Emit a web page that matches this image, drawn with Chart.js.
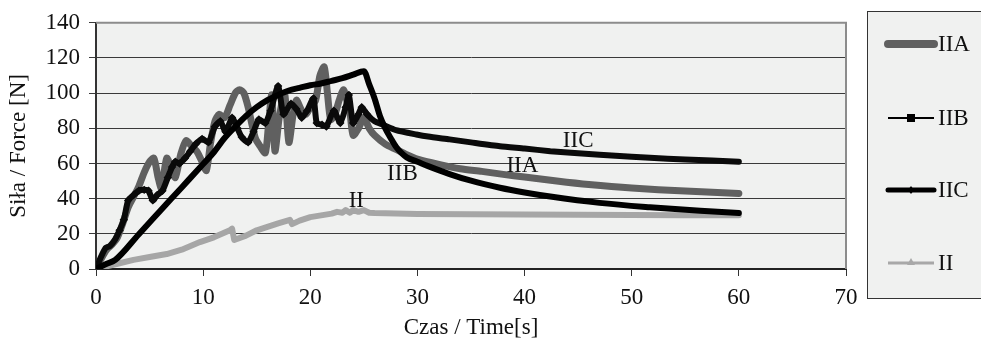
<!DOCTYPE html>
<html>
<head>
<meta charset="utf-8">
<title>Siła / Force</title>
<script src="https://cdn.jsdelivr.net/npm/chart.js@4.4.0/dist/chart.umd.min.js"></script>
<style>
  html, body { margin: 0; padding: 0; background: #fff; }
  #wykres { display: block; }
</style>
</head>
<body>
<canvas id="wykres" width="981" height="339"></canvas>
<script>
// Dane (czas [s], siła [N])
const czasIIA = [0, 0.5, 1, 1.5, 2, 2.5, 3, 3.5, 4, 4.5, 5, 5.4, 5.8, 6.1, 6.6, 7, 7.4, 7.9, 8.4, 8.9,
  9.4, 9.9, 10.3, 10.7, 11.1, 11.5, 12, 12.5, 13, 13.4, 13.8, 14.2, 14.6, 14.9, 15.3, 15.8, 16.1, 16.4, 16.7, 17.1,
  17.6, 18, 18.4, 18.7, 19.2, 19.6, 20, 20.5, 20.9, 21.3, 21.6, 21.9, 22.3, 22.7, 23.1, 23.4, 23.7, 24, 24.5, 25,
  25.5, 26, 27, 28, 29, 30, 32, 34, 36, 38, 40, 43, 46, 50, 55, 60];
const silaIIA = [0, 6, 11, 14, 18, 26, 35, 41, 47, 55, 61, 63, 52, 46, 63, 58, 52, 65, 73, 70,
  67, 61, 56, 72, 84, 88, 86, 93, 100, 102, 100, 92, 81, 74, 70, 66, 82, 99, 67, 86,
  100, 72, 88, 96, 90, 88, 92, 96, 110, 115, 100, 85, 88, 96, 102, 96, 89, 76, 80, 86,
  80, 76, 71, 68, 65, 62.5, 59.5, 57, 55.5, 53.8, 52.3, 50, 48, 46, 44.3, 43];

const czasIIB = [0, 1, 1.8, 4, 6, 8, 10, 11, 12, 13, 14, 15, 16, 17, 18, 19, 20, 21, 22, 23,
  24, 25, 25.5, 26, 26.5, 27, 27.5, 28, 28.5, 29, 30, 31, 33, 35, 37.7, 40, 42.4, 47, 51.7, 56.4, 60];
const silaIIB = [0, 3, 5.2, 19.8, 33.1, 46.4, 59.7, 66.4, 74.5, 81, 87, 92, 96, 99, 101.5, 103, 104.5, 105.5, 107, 108.5,
  110.5, 112.5, 105, 97, 87, 80, 74.5, 69.5, 66, 63.5, 61, 58.5, 54, 50.2, 46.2, 43.5, 41.2, 37.6, 35.1, 33.1, 31.8];

const czasIIC = [0, 0.4, 0.9, 1.3, 1.8, 2.2, 2.6, 3, 3.5, 4, 4.5, 4.9, 5.3, 5.7, 6.2, 6.7, 7.1, 7.4, 7.8, 8.3,
  8.8, 9.3, 9.9, 10.5, 11.1, 11.6, 12.1, 12.7, 13.2, 13.6, 14.2, 14.7, 15.2, 15.8, 16.3, 17, 17.5, 18.2, 18.7, 19.2,
  19.7, 20.3, 20.6, 21.1, 21.5, 22.2, 22.8, 23.3, 23.6, 24, 24.5, 24.8, 25.3, 26, 26.8, 28, 29.9, 31, 33, 35,
  37.7, 40, 42.4, 45, 47, 50, 51.7, 55, 60];
const silaIIC = [0, 6, 12, 13, 17, 22, 28, 39, 42, 44.5, 45, 44.5, 39, 42, 44.5, 52, 58, 61, 60, 63,
  67, 71, 74, 72, 81, 84, 78, 86, 80, 75, 72, 78, 85, 83, 90, 104, 88, 94, 91, 86,
  90, 97, 83, 82, 81, 90, 83, 92, 99, 83, 88, 92, 88, 84, 82, 79, 76.5, 75.3, 73.7, 72,
  69.8, 68.5, 67, 65.8, 65, 63.8, 63.2, 62.3, 61];

const czasII = [0, 1, 2, 3.5, 5, 6.6, 8, 9.7, 11, 12.5, 12.7, 12.9, 14, 15, 16, 17, 18.1, 18.3, 19, 20,
  21, 22, 22.5, 23, 23.3, 23.7, 24, 24.5, 25, 25.5, 26, 28, 30, 35, 40, 45, 50, 55, 60];
const silaII = [0, 1.5, 3, 5.2, 6.8, 8.5, 11, 15.3, 18, 22, 23, 16.5, 19, 22, 24, 26, 28, 25.5, 27.5, 29.5,
  30.5, 31.5, 32.5, 32, 33.5, 32, 33.5, 32.5, 33.5, 32, 31.8, 31.5, 31.3, 31.1, 31, 30.8, 30.7, 30.6, 30.5];

const serie = ['IIA', 'IIB', 'IIC', 'II'];
const osX = [0, 10, 20, 30, 40, 50, 60, 70];
const osY = [0, 20, 40, 60, 80, 100, 120, 140];

// podpisy serii na wykresie (w jednostkach danych)
const podpisy = [
  { tekst: 'IIC', x: 45.0, y: 73 },
  { tekst: 'IIA', x: 39.8, y: 58.5 },
  { tekst: 'IIB', x: 28.6, y: 54 },
  { tekst: 'II', x: 24.3, y: 38.5 }
];

const punkty = (czas, sila) => czas.map((t, i) => ({ x: t, y: sila[i] }));
const czcionka = 'Liberation Serif';
const rozmiar = 23;

// Tło obszaru wykresu, ramka, podpisy i legenda
const dodatki = {
  id: 'dodatki',
  beforeDraw(chart) {
    const { ctx, chartArea: a } = chart;
    ctx.save();
    ctx.fillStyle = '#f0f1f0';
    ctx.fillRect(a.left, a.top, a.right - a.left, a.bottom - a.top);
    ctx.restore();
  },
  afterDraw(chart) {
    const { ctx, chartArea: a, scales } = chart;
    ctx.save();
    ctx.strokeStyle = '#8c8c8c';
    ctx.lineWidth = 2;
    ctx.beginPath();
    ctx.moveTo(a.left, a.top);
    ctx.lineTo(a.right, a.top);
    ctx.lineTo(a.right, a.bottom);
    ctx.stroke();

    ctx.fillStyle = '#111';
    ctx.font = rozmiar + 'px "' + czcionka + '"';
    ctx.textAlign = 'center';
    ctx.textBaseline = 'middle';
    podpisy.forEach(p => {
      ctx.fillText(p.tekst, scales.x.getPixelForValue(p.x), scales.y.getPixelForValue(p.y));
    });

    // legenda
    ctx.fillStyle = '#f0f1f0';
    ctx.fillRect(867.5, 11.5, 130, 287);
    ctx.strokeStyle = '#333';
    ctx.lineWidth = 1;
    ctx.strokeRect(867.5, 11.5, 130, 287);

    const wpisy = [
      { y: 44, kolor: '#606060', grubosc: 8, znacznik: null },
      { y: 118, kolor: '#000', grubosc: 2, znacznik: 'kwadrat' },
      { y: 190, kolor: '#000', grubosc: 5, znacznik: 'romb' },
      { y: 263, kolor: '#a8a8a8', grubosc: 3, znacznik: 'trojkat' }
    ];
    wpisy.forEach((w, i) => {
      ctx.strokeStyle = w.kolor;
      ctx.fillStyle = w.kolor;
      ctx.lineWidth = w.grubosc;
      ctx.lineCap = w.grubosc > 4 ? 'round' : 'butt';
      ctx.beginPath();
      ctx.moveTo(888, w.y);
      ctx.lineTo(934, w.y);
      ctx.stroke();
      if (w.znacznik === 'kwadrat') {
        ctx.fillRect(907, w.y - 4, 8, 8);
      } else if (w.znacznik === 'romb') {
        ctx.beginPath();
        ctx.moveTo(911, w.y - 4);
        ctx.lineTo(914, w.y);
        ctx.lineTo(911, w.y + 4);
        ctx.lineTo(908, w.y);
        ctx.fill();
      } else if (w.znacznik === 'trojkat') {
        ctx.beginPath();
        ctx.moveTo(911, w.y - 5);
        ctx.lineTo(915, w.y + 2);
        ctx.lineTo(907, w.y + 2);
        ctx.fill();
      }
      ctx.fillStyle = '#111';
      ctx.textAlign = 'left';
      ctx.fillText(serie[i], 938, w.y + 1);
    });
    ctx.restore();
  }
};

const ctx = document.getElementById('wykres').getContext('2d');
const wykres = new Chart(ctx, {
  type: 'line',
  data: {
    datasets: [
      {
        label: serie[0],
        data: punkty(czasIIA, silaIIA),
        borderColor: '#606060',
        borderWidth: 7,
        pointRadius: 0,
        tension: 0.25,
        order: 3
      },
      {
        label: serie[1],
        data: punkty(czasIIB, silaIIB),
        borderColor: '#000',
        borderWidth: 6,
        pointRadius: 0,
        cubicInterpolationMode: 'monotone',
        order: 1
      },
      {
        label: serie[2],
        data: punkty(czasIIC, silaIIC),
        borderColor: '#0a0a0a',
        borderWidth: 6,
        tension: 0.2,
        pointStyle: 'rectRot',
        pointRadius: c => (c.raw && c.raw.x <= 25.3 && c.raw.x >= 2 ? 4.2 : 0),
        pointBackgroundColor: '#0a0a0a',
        pointBorderWidth: 0,
        order: 2
      },
      {
        label: serie[3],
        data: punkty(czasII, silaII),
        borderColor: '#a6a6a6',
        borderWidth: 6,
        pointRadius: 0,
        order: 4
      }
    ]
  },
  options: {
    responsive: false,
    animation: false,
    devicePixelRatio: 1,
    elements: { line: { borderCapStyle: 'round', borderJoinStyle: 'round', tension: 0 } },
    layout: { padding: { top: 20, right: 135, left: 0, bottom: 0 } },
    plugins: { legend: { display: false }, tooltip: { enabled: false } },
    scales: {
      x: {
        type: 'linear',
        min: osX[0],
        max: osX[osX.length - 1],
        afterFit: s => { s.height = 70; },
        ticks: { stepSize: 10, padding: 8, color: '#111', font: { family: czcionka, size: rozmiar } },
        grid: { drawOnChartArea: false, drawTicks: true, tickLength: 7, color: '#333' },
        border: { display: true, color: '#222', width: 2 },
        title: {
          display: true,
          text: 'Czas / Time[s]',
          color: '#111',
          padding: { top: 0, bottom: 0 },
          font: { family: czcionka, size: rozmiar, lineHeight: 1 }
        }
      },
      y: {
        min: osY[0],
        max: osY[osY.length - 1],
        afterFit: s => { s.width = 96; },
        ticks: { stepSize: 20, padding: 9, color: '#111', font: { family: czcionka, size: rozmiar } },
        grid: { color: '#3a3a3a', lineWidth: 1, tickLength: 7 },
        border: { display: true, color: '#333', width: 2 },
        title: {
          display: true,
          text: 'Siła / Force [N]',
          color: '#111',
          padding: { top: 7, bottom: 0 },
          font: { family: czcionka, size: rozmiar, lineHeight: 1 }
        }
      }
    }
  },
  plugins: [dodatki]
});
</script>
</body>
</html>
